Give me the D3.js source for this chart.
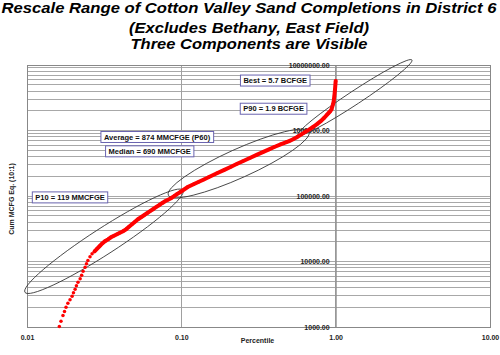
<!DOCTYPE html>
<html><head><meta charset="utf-8">
<script src="https://cdn.jsdelivr.net/npm/d3@7"></script>
<style>body{margin:0;background:#fff} text{font-family:"Liberation Sans",Arial,sans-serif}</style>
</head><body><svg id="c" width="500" height="355"></svg>
<script>
const titleLines = ["Rescale Range of Cotton Valley Sand Completions in District 6",
  "(Excludes Bethany, East Field)", "Three Components are Visible"];
const xTitle = "Percentile";
const yTitle = "Cum MCFG Eq. (10:1)";
const xTicks = [0.01, 0.1, 1, 10];
const yTicks = [1e3, 1e4, 1e5, 1e6, 1e7];

const percentile = [0.0162,0.0166,0.0171,0.0175,0.0179,0.0184,0.0190,0.0196,0.0200,0.0205,
  0.0209,0.0214,0.0221,0.0226,0.0231,0.0238,0.0243,0.0248,0.0256,0.0264,
  0.0274,0.0284,0.0295,0.0306,0.0320,0.0335,0.0350,0.0366,0.0383,0.0400,
  0.0419,0.0438,0.0458,0.0479,0.0501,0.0524,0.0548,0.0573,0.0599,0.0627,
  0.0655,0.0685,0.0717,0.0749,0.0784,0.0820,0.0857,0.0897,0.0937,0.0980,
  0.11,0.12,0.13,0.14,0.15,0.17,0.19,0.21,0.23,0.25,0.28,0.31,0.34,0.37,0.40,
  0.44,0.48,0.50,0.53,0.56,0.60,0.64,0.68,0.72,0.76,0.80,0.84,0.88,0.90,0.92,
  0.94,0.96,0.97,0.98,0.99,1.00];
const cumMcfge = [1020,1220,1500,1730,2000,2300,2600,2940,3320,3760,
  4250,4810,5430,6150,7080,8150,9230,10400,11800,13100,
  14300,15600,17100,18700,20400,21800,23400,24700,26100,27500,
  29000,31000,34000,37100,40500,44200,47400,50800,54600,58600,
  62800,67500,72300,77600,83200,87700,92500,99300,107000,114000,
  137000,151000,165000,179000,193000,222000,251000,280000,310000,339000,384000,428000,472000,515000,560000,
  615000,665000,690000,735000,790000,874000,960000,1050000,1150000,1260000,1390000,1550000,1750000,1850000,1950000,
  2100000,2500000,2750000,3300000,4200000,5700000];

const labelText = ["Best = 5.7 BCFGE","P90 = 1.9 BCFGE","Average = 874 MMCFGE (P60)","Median = 690 MMCFGE","P10 = 119 MMCFGE"];
const labelP = [0.406, 0.396, 0.0696, 0.0624, 0.0190];
const labelV = [5790000, 2150000, 796000, 481000, 95200];

const ellipseP1 = [0.0097, 0.0824, 0.570];
const ellipseV1 = [3380, 102800, 851000];
const ellipseP2 = [0.1025, 0.672, 3.12];
const ellipseV2 = [122700, 955000, 11930000];
const ellipseHalfWidth = [13, 14.4, 6.7];

const svg = d3.select("#c");
const x = d3.scaleLog().domain([0.01, 10]).range([27, 490]);
const y = d3.scaleLog().domain([1000, 1e7]).range([327, 65]);
const [x0, x1] = x.range(), [y0, y1] = y.range();

// title
const tLen = [495, 240, 237], tY = [13.3, 32.5, 48.5];
svg.selectAll("text.title").data(titleLines).join("text").attr("class","title")
  .attr("x", 249).attr("y", (d,i)=>tY[i]).attr("text-anchor","middle")
  .attr("font-size", 14.5).attr("font-weight","bold").attr("font-style","italic")
  .attr("textLength",(d,i)=>tLen[i]).attr("lengthAdjust","spacingAndGlyphs").text(d=>d);

// plot area
svg.append("rect").attr("x", x0).attr("y", y1).attr("width", x1-x0).attr("height", y0-y1).attr("fill","#fff");
const gGrid = svg.append("g");
gGrid.selectAll("line.h").data(y.ticks()).join("line").attr("class","h")
  .attr("x1", x0).attr("x2", x1).attr("y1", d=>y(d)).attr("y2", d=>y(d))
  .attr("stroke", "#a8a8a8").attr("stroke-width", 1).attr("shape-rendering","crispEdges");
gGrid.selectAll("line.v").data(xTicks).join("line").attr("class","v")
  .attr("y1", y0).attr("y2", y1).attr("x1", d=>x(d)).attr("x2", d=>x(d))
  .attr("stroke", "#a0a0a0").attr("stroke-width", 1).attr("shape-rendering","crispEdges");
svg.append("rect").attr("x", x0).attr("y", y1).attr("width", x1-x0).attr("height", y0-y1)
  .attr("fill","none").attr("stroke","#888").attr("shape-rendering","crispEdges");

// axes
const fmt = d3.format(".2f");
const xAxis = svg.append("g").attr("transform",`translate(0,${y0})`)
  .call(d3.axisBottom(x).tickValues(xTicks).tickFormat(fmt).tickSize(0).tickPadding(8));
xAxis.select(".domain").remove();
const yAxis = svg.append("g").attr("transform",`translate(${x(1)},0)`)
  .call(d3.axisLeft(y).tickValues(yTicks).tickFormat(fmt).tickSize(0).tickPadding(6));
yAxis.select(".domain").attr("stroke","#888");
svg.selectAll(".tick text").attr("font-family","Liberation Sans, Arial, sans-serif")
  .attr("font-size", 7).attr("font-weight","bold").attr("fill","#222");

svg.append("text").attr("x", 257.5).attr("y", 342.5).attr("text-anchor","middle")
  .attr("font-size", 7).attr("font-weight","bold").attr("fill","#222").text(xTitle);
svg.append("text").attr("transform","translate(13.5,199) rotate(-90)").attr("text-anchor","middle")
  .attr("font-size", 7).attr("font-weight","bold").attr("fill","#222").text(yTitle);

// ellipses
ellipseP1.forEach((p,i)=>{
  const ax = x(p), ay = y(ellipseV1[i]), bx = x(ellipseP2[i]), by = y(ellipseV2[i]);
  const cx = (ax+bx)/2, cy = (ay+by)/2;
  const a = Math.hypot(bx-ax, by-ay)/2;
  const ang = Math.atan2(by-ay, bx-ax)*180/Math.PI;
  svg.append("ellipse").attr("cx",cx).attr("cy",cy).attr("rx",a).attr("ry",ellipseHalfWidth[i])
    .attr("transform",`rotate(${ang},${cx},${cy})`)
    .attr("fill","none").attr("stroke","#333").attr("stroke-width",0.8);
});

// data
const pts = percentile.map((p,i)=>[p, cumMcfge[i]]);
const dense = pts.filter(d=>d[0] >= 0.027);
svg.append("path").datum(dense)
  .attr("d", d3.line().x(d=>x(d[0])).y(d=>y(d[1])))
  .attr("fill","none").attr("stroke","#ff0000").attr("stroke-width",4).attr("stroke-linecap","round");
svg.selectAll("circle.pt").data(pts).join("circle").attr("class","pt")
  .attr("cx", d=>x(d[0])).attr("cy", d=>y(d[1])).attr("r", 1.75).attr("fill","#ff0000");

// label boxes
labelText.forEach((t,i)=>{
  const cx = x(labelP[i]), cy = y(labelV[i]);
  const g = svg.append("g");
  const r = g.append("rect");
  const tx = g.append("text").attr("x",cx).attr("y",cy).attr("dy","0.35em").attr("text-anchor","middle")
    .attr("font-size",7.5).attr("font-weight","bold").attr("fill","#111").text(t);
  const bb = tx.node().getBBox();
  r.attr("x", bb.x-3).attr("y", cy-5.5).attr("width", bb.width+6).attr("height", 11)
    .attr("fill","#fff").attr("stroke","#6a64b0").attr("stroke-width",1);
});
</script></body></html>
